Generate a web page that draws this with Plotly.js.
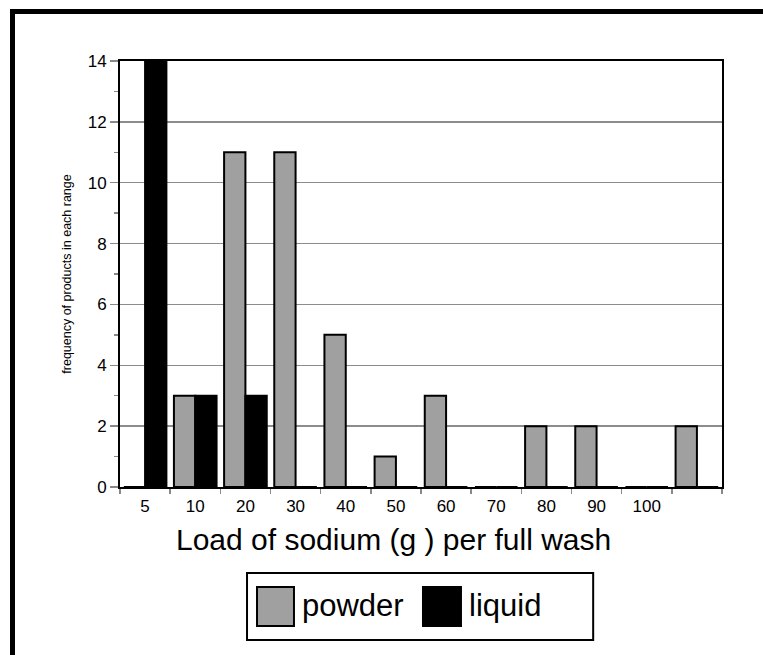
<!DOCTYPE html>
<html>
<head>
<meta charset="utf-8">
<script src="https://cdn.plot.ly/plotly-3.0.1.min.js"></script>
<style>
  html, body { margin: 0; padding: 0; background: #fff; }
  #wrap { position: relative; width: 763px; height: 655px; overflow: hidden; }
  #chart { position: absolute; left: 0; top: 0; width: 763px; height: 655px; }
  #frame { position: absolute; left: 10px; top: 9px; width: 800px; height: 700px;
           border-top: 5px solid #000; border-left: 5px solid #000; pointer-events: none; }
</style>
</head>
<body>
<div id="wrap">
  <div id="chart"></div>
  <div id="frame"></div>
</div>
<script>
// ---- data ----
var categories = ['5', '10', '20', '30', '40', '50', '60', '70', '80', '90', '100', ' '];
var powder = [0, 3, 11, 11, 5, 1, 3, 0, 2, 2, 0, 2];
var liquid = [14, 3, 3, 0, 0, 0, 0, 0, 0, 0, 0, 0];
var seriesNames = ['powder', 'liquid'];
var yTicks = [0, 2, 4, 6, 8, 10, 12, 14];
var xTitle = 'Load of sodium (g ) per full wash';
var yTitle = 'frequency of products in each range';

var powderColor = '#a0a0a0';
var liquidColor = '#000000';
var font = 'Liberation Sans, Arial, sans-serif';

var traces = [
  { type: 'bar', name: seriesNames[0], x: categories, y: powder,
    marker: { color: powderColor, line: { color: '#000', width: 2 } } },
  { type: 'bar', name: seriesNames[1], x: categories, y: liquid,
    marker: { color: liquidColor, line: { color: '#000', width: 2 } } }
];

var n = categories.length;
var boundaries = categories.map(function (c, i) { return i + 0.5; });
boundaries.unshift(-0.5);

var layout = {
  width: 763, height: 655,
  margin: { l: 120, r: 41, t: 61, b: 168 },
  paper_bgcolor: '#fff', plot_bgcolor: '#fff',
  font: { family: font, color: '#000', size: 17 },
  showlegend: false,
  barmode: 'group', bargap: 0.15, bargroupgap: 0,
  xaxis: {
    type: 'category', categoryorder: 'array', categoryarray: categories,
    range: [-0.5, n - 0.5],
    showline: true, linecolor: '#000', linewidth: 2, mirror: true,
    ticks: 'outside', tickson: 'boundaries', ticklen: 5, tickwidth: 1.5, tickcolor: '#888',
    ticklabelstandoff: 3,
    tickfont: { size: 17, family: font, color: '#000' },
    showgrid: false, zeroline: false, automargin: false
  },
  xaxis2: {
    overlaying: 'x', anchor: 'y', type: 'linear', range: [-0.5, n - 0.5],
    tickmode: 'array', tickvals: boundaries, ticks: 'inside', ticklen: 4, tickwidth: 1.5,
    tickcolor: '#888', showticklabels: false, showgrid: false, zeroline: false, showline: false
  },
  yaxis: {
    range: [0, 14], tickmode: 'array', tickvals: yTicks,
    showline: true, linecolor: '#000', linewidth: 2, mirror: true,
    ticks: 'outside', ticklen: 8, tickwidth: 1.5, tickcolor: '#888',
    minor: { dtick: 1, ticks: 'outside', ticklen: 4, tickwidth: 1.5, tickcolor: '#888', showgrid: false },
    showgrid: true, gridcolor: '#8c8c8c', gridwidth: 1.5, zeroline: false,
    tickfont: { size: 17, family: font, color: '#000' },
    automargin: false,
    title: { text: yTitle, font: { size: 12.5, family: font, color: '#000' }, standoff: 13 }
  },
  yaxis2: {
    overlaying: 'y', anchor: 'x', side: 'left', range: [0, 14],
    tickmode: 'array', tickvals: yTicks, ticks: 'inside', ticklen: 10, tickwidth: 1.5, tickcolor: '#888',
    minor: { dtick: 1, ticks: 'inside', ticklen: 7, tickwidth: 1.5, tickcolor: '#888', showgrid: false },
    showticklabels: false, showgrid: false, zeroline: false, showline: false
  },
  shapes: [
    { type: 'rect', xref: 'paper', yref: 'paper', x0: 0.211, x1: 0.786, y0: -0.202, y1: -0.359,
      line: { color: '#000', width: 2 }, fillcolor: '#fff', layer: 'above' },
    { type: 'rect', xref: 'paper', yref: 'paper', x0: 0.2276, x1: 0.289, y0: -0.2347, y1: -0.3263,
      line: { color: '#000', width: 2 }, fillcolor: powderColor, layer: 'above' },
    { type: 'rect', xref: 'paper', yref: 'paper', x0: 0.5033, x1: 0.5664, y0: -0.2347, y1: -0.3263,
      line: { color: '#000', width: 2 }, fillcolor: liquidColor, layer: 'above' }
  ],
  annotations: [
    { xref: 'paper', yref: 'paper', x: 0.4535, y: -0.1244, xanchor: 'center', yanchor: 'middle',
      text: xTitle, showarrow: false, font: { size: 30, family: font, color: '#000' } },
    { xref: 'paper', yref: 'paper', x: 0.2986, y: -0.279, xanchor: 'left', yanchor: 'middle',
      text: seriesNames[0], showarrow: false, font: { size: 31, family: font, color: '#000' } },
    { xref: 'paper', yref: 'paper', x: 0.5756, y: -0.279, xanchor: 'left', yanchor: 'middle',
      text: seriesNames[1], showarrow: false, font: { size: 31, family: font, color: '#000' } }
  ]
};

Plotly.newPlot('chart', traces, layout, { staticPlot: true, displayModeBar: false });
</script>
</body>
</html>
